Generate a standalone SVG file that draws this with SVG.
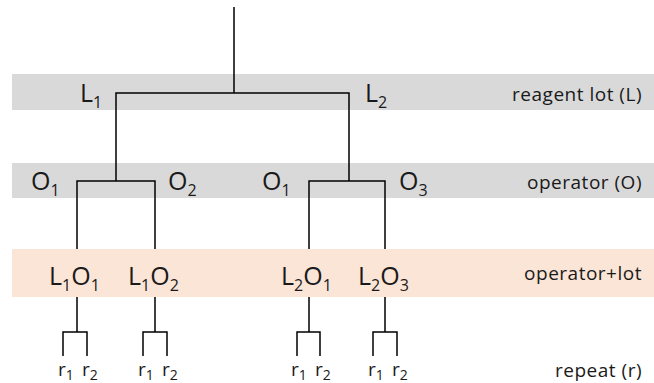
<svg xmlns="http://www.w3.org/2000/svg" width="654" height="383" viewBox="0 0 654 383">
<style>
  .band-gray { fill: #d9d9d9; }
  .band-peach { fill: #fbe5d6; }
  .ln { stroke: #000; stroke-width: 1.5; fill: none; }
  .node { font-family: "Open Sans", "Noto Sans", sans-serif; font-size: 25px; fill: #1a1a1a; }
  .sub { font-size: 16px; }
  .lab { font-family: "Open Sans", "Noto Sans", sans-serif; font-size: 19px; letter-spacing: 0.5px; fill: #1a1a1a; text-anchor: end; }
  .rep { font-family: "Open Sans", "Noto Sans", sans-serif; font-size: 19px; fill: #1a1a1a; }
  .rsub { font-size: 14px; }
</style>
<g id="bands">
  <rect class="band-gray" x="12" y="74" width="642" height="36"/>
  <rect class="band-gray" x="12" y="163" width="642" height="35"/>
</g>
<g id="connectors">
  <path class="ln" d="M234 7 V93 M116 181 V93 H349 V181"/>
  <path class="ln" d="M77 249 V181 H155 V249 M309 249 V181 H385 V249"/>
  <path class="ln" d="M77 297 V332 M63 356 V332 H87 V356"/>
  <path class="ln" d="M155 297 V332 M143 356 V332 H167 V356"/>
  <path class="ln" d="M309 297 V332 M297 356 V332 H320 V356"/>
  <path class="ln" d="M385 297 V332 M373 356 V332 H397 V356"/>
</g>
<rect id="band-peach" class="band-peach" x="12" y="249" width="642" height="48"/>
<g id="L1"><text class="node" x="80" y="102">L<tspan class="sub" dy="6">1</tspan></text></g>
<g id="L2"><text class="node" x="365" y="102">L<tspan class="sub" dy="6">2</tspan></text></g>
<g id="O1a"><text class="node" x="31" y="190">O<tspan class="sub" dy="6">1</tspan></text></g>
<g id="O2"><text class="node" x="168" y="190">O<tspan class="sub" dy="6">2</tspan></text></g>
<g id="O1b"><text class="node" x="262" y="190">O<tspan class="sub" dy="6">1</tspan></text></g>
<g id="O3"><text class="node" x="399" y="190">O<tspan class="sub" dy="6">3</tspan></text></g>
<g id="L1O1"><text class="node" x="49" y="285">L<tspan class="sub" dy="6">1</tspan><tspan dy="-6">O</tspan><tspan class="sub" dy="6">1</tspan></text></g>
<g id="L1O2"><text class="node" x="128" y="285">L<tspan class="sub" dy="6">1</tspan><tspan dy="-6">O</tspan><tspan class="sub" dy="6">2</tspan></text></g>
<g id="L2O1"><text class="node" x="281" y="285">L<tspan class="sub" dy="6">2</tspan><tspan dy="-6">O</tspan><tspan class="sub" dy="6">1</tspan></text></g>
<g id="L2O3"><text class="node" x="358" y="285">L<tspan class="sub" dy="6">2</tspan><tspan dy="-6">O</tspan><tspan class="sub" dy="6">3</tspan></text></g>
<g id="reps">
  <text class="rep" x="58" y="376">r<tspan class="rsub" dy="4">1</tspan></text>
  <text class="rep" x="82" y="376">r<tspan class="rsub" dy="4">2</tspan></text>
  <text class="rep" x="138" y="376">r<tspan class="rsub" dy="4">1</tspan></text>
  <text class="rep" x="162" y="376">r<tspan class="rsub" dy="4">2</tspan></text>
  <text class="rep" x="291" y="376">r<tspan class="rsub" dy="4">1</tspan></text>
  <text class="rep" x="315" y="376">r<tspan class="rsub" dy="4">2</tspan></text>
  <text class="rep" x="368" y="376">r<tspan class="rsub" dy="4">1</tspan></text>
  <text class="rep" x="392" y="376">r<tspan class="rsub" dy="4">2</tspan></text>
</g>
<g id="labels">
  <text class="lab" x="642" y="101">reagent lot (L)</text>
  <text class="lab" x="642" y="189">operator (O)</text>
  <text class="lab" x="642" y="280">operator+lot</text>
  <text class="lab" x="642" y="377">repeat (r)</text>
</g>
</svg>
